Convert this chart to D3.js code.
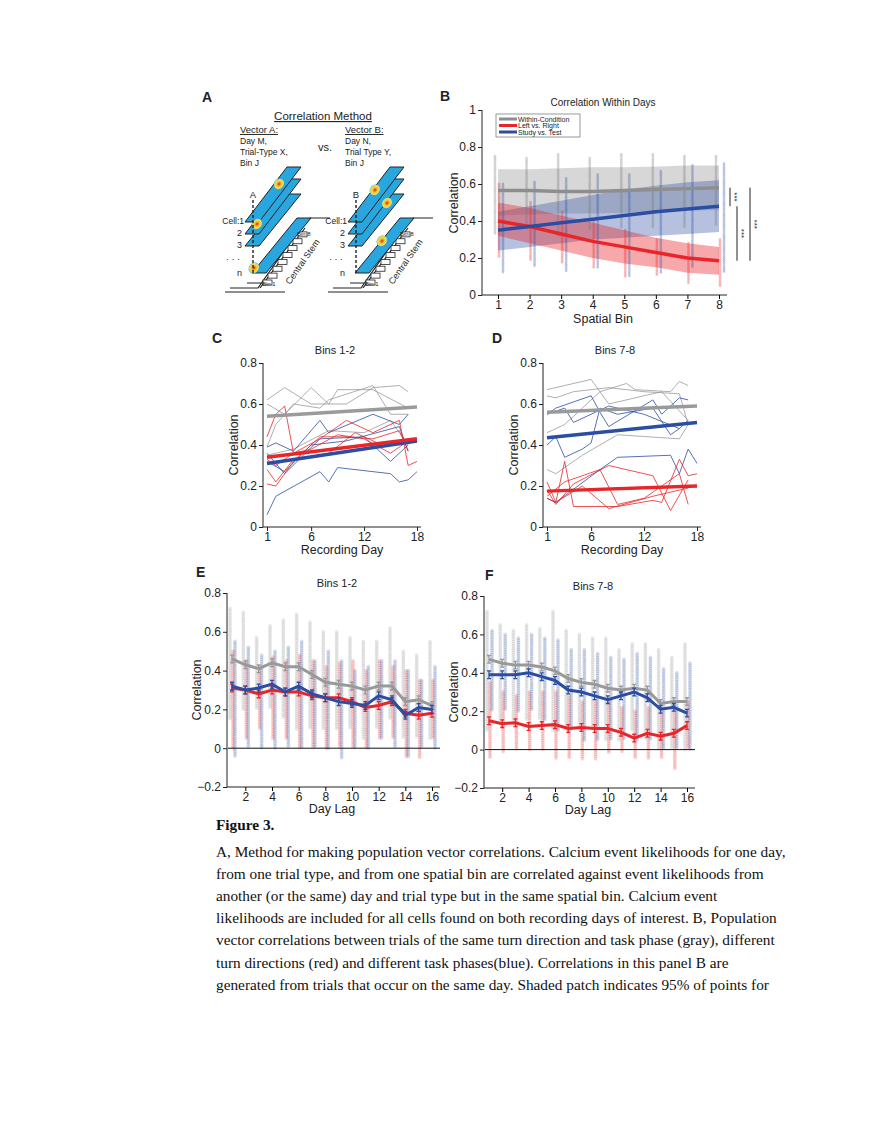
<!DOCTYPE html>
<html><head><meta charset="utf-8">
<script src="https://cdn.jsdelivr.net/npm/d3@7"></script>
<style>
body{margin:0;background:#fff}
text{font-family:"Liberation Sans",Arial,sans-serif;fill:#222}
.cap{font-family:"Liberation Serif","Times New Roman",serif;font-size:15.3px;fill:#111}
</style></head><body>
<svg id="fig" width="880" height="1139"></svg>
<script>
const GRAY = "#9a9a9a", RED = "#e8262a", BLUE = "#2b4ea2";

// ---- panel B: correlation within days, by spatial bin
const bins = [1, 2, 3, 4, 5, 6, 7, 8];
const bGrayMean = [0.565, 0.565, 0.56, 0.56, 0.565, 0.57, 0.575, 0.58];
const bGrayHi   = [0.68, 0.68, 0.685, 0.69, 0.69, 0.695, 0.70, 0.70];
const bGrayLo   = [0.43, 0.435, 0.44, 0.44, 0.445, 0.45, 0.455, 0.46];
const bRedMean  = [0.40, 0.37, 0.33, 0.29, 0.26, 0.23, 0.20, 0.185];
const bRedHi    = [0.50, 0.47, 0.43, 0.39, 0.35, 0.31, 0.28, 0.26];
const bRedLo    = [0.32, 0.28, 0.24, 0.20, 0.17, 0.15, 0.12, 0.11];
const bBlueMean = [0.35, 0.37, 0.39, 0.41, 0.43, 0.45, 0.465, 0.48];
const bBlueHi   = [0.45, 0.48, 0.51, 0.54, 0.57, 0.59, 0.61, 0.62];
const bBlueLo   = [0.24, 0.26, 0.28, 0.30, 0.31, 0.32, 0.33, 0.34];
// scatter extents per bin [low, high]
const bGrayPts = [[0.33,0.75],[0.35,0.74],[0.32,0.76],[0.35,0.74],[0.36,0.76],[0.36,0.76],[0.36,0.75],[0.38,0.75]];
const bRedPts  = [[0.20,0.60],[0.18,0.50],[0.17,0.45],[0.15,0.40],[0.10,0.35],[0.10,0.30],[0.06,0.28],[0.05,0.30]];
const bBluePts = [[0.12,0.60],[0.15,0.61],[0.12,0.63],[0.15,0.65],[0.10,0.65],[0.12,0.67],[0.15,0.70],[0.12,0.71]];

// ---- panels C, D: per-animal lines over recording day, [day, r]
const cGrayLines = [
  [[1,.62],[3,.68],[6,.60],[10,.60],[13,.68],[16,.69],[17,.66]],
  [[1,.60],[3,.55],[6,.68],[8,.60],[9,.67],[13,.67],[17,.58]],
  [[1,.39],[2,.50],[4,.60],[7,.58],[8,.62],[13,.69],[15,.55],[17,.55]],
  [[1,.35],[4,.38],[8,.47],[12,.46],[15,.52],[17,.40]]];
const cRedLines = [
  [[1,.44],[2,.55],[3,.59],[4,.36],[7,.43],[10,.52],[13,.46],[16,.52],[17,.30],[18,.32]],
  [[1,.21],[2,.20],[4,.32],[7,.44],[10,.44],[13,.43],[16,.47],[17,.37]],
  [[1,.28],[2,.22],[4,.33],[8,.36],[11,.46],[14,.40],[17,.42]],
  [[1,.33],[2,.30],[4,.36],[6,.38],[9,.45],[12,.43],[15,.36],[17,.42]]];
const cBlueLines = [
  [[1,.06],[2,.15],[7,.27],[8,.22],[9,.29],[15,.26],[16,.22],[17,.23],[18,.27]],
  [[1,.39],[2,.41],[4,.37],[7,.52],[8,.46],[13,.55],[16,.50],[17,.55]],
  [[1,.36],[3,.26],[7,.43],[12,.44],[15,.32],[17,.40]],
  [[1,.32],[3,.27],[6,.40],[10,.42],[16,.49],[17,.37]]];
const cTrend = {gray: [0.54, 0.585], red: [0.34, 0.43], blue: [0.31, 0.42]};

const dGrayLines = [
  [[1,.67],[3,.69],[6,.72],[7,.66],[10,.70],[11,.67],[15,.66],[16,.71],[17,.69]],
  [[1,.64],[2,.63],[4,.66],[8,.68],[12,.66],[16,.65],[17,.50]],
  [[1,.46],[3,.50],[7,.66],[8,.60],[14,.66],[17,.52]],
  [[1,.28],[2,.26],[5,.35],[9,.45],[16,.43],[17,.50]]];
const dBlueLines = [
  [[1,.55],[2,.58],[6,.64],[7,.56],[8,.49],[13,.62],[14,.55],[16,.63],[17,.62]],
  [[1,.40],[2,.44],[3,.34],[5,.38],[6,.41],[7,.58],[9,.55],[13,.58],[15,.45],[16,.48],[17,.52]],
  [[1,.14],[2,.12],[7,.28],[9,.34],[15,.35],[16,.26],[17,.38],[18,.31]],
  [[1,.55],[3,.58],[4,.51],[8,.59],[12,.55],[16,.48]]];
const dRedLines = [
  [[1,.22],[2,.12],[3,.32],[4,.10],[9,.10],[13,.13],[14,.12],[16,.33],[17,.25],[18,.26]],
  [[1,.18],[2,.11],[4,.21],[8,.30],[13,.25],[15,.08],[17,.23]],
  [[1,.15],[3,.22],[7,.28],[9,.11],[12,.14],[16,.26],[17,.11]],
  [[1,.14],[2,.12],[5,.20],[8,.09],[13,.15],[17,.19]]];
const dTrend = {gray: [0.56, 0.59], red: [0.175, 0.20], blue: [0.435, 0.51]};

// ---- panels E, F: mean correlation by day lag
const lags = d3.range(1, 17);
const eGray = [.46,.43,.41,.44,.42,.42,.38,.34,.33,.32,.30,.32,.32,.24,.25,.22];
const eBlue = [.32,.30,.31,.33,.29,.32,.28,.26,.24,.23,.22,.27,.25,.17,.21,.20];
const eRed  = [.31,.30,.28,.30,.29,.29,.27,.26,.26,.24,.21,.22,.24,.18,.17,.18];
const eGrayPts = [[.15,.72],[.2,.70],[.2,.57],[.2,.63],[.15,.66],[.1,.69],[.1,.65],[.1,.60],[.1,.60],[.1,.57],[.05,.55],[.1,.55],[.15,.62],[.05,.50],[.05,.48],[.05,.55]];
const eRedPts  = [[0,.50],[.05,.45],[.1,.42],[.05,.47],[.05,.45],[0,.48],[0,.45],[0,.42],[0,.44],[0,.45],[0,.40],[.05,.45],[.05,.42],[-.05,.40],[-.05,.35],[.05,.35]];
const eBluePts = [[-.05,.55],[0,.52],[0,.48],[0,.50],[0,.52],[0,.55],[0,.45],[0,.50],[-.05,.45],[0,.40],[0,.42],[.05,.45],[0,.45],[-.05,.40],[0,.35],[0,.42]];
const fGray = [.47,.45,.44,.44,.43,.41,.37,.35,.34,.32,.31,.32,.31,.24,.25,.25];
const fBlue = [.39,.39,.39,.40,.38,.36,.31,.30,.28,.26,.28,.30,.27,.21,.22,.19];
const fRed  = [.15,.135,.14,.12,.125,.13,.11,.115,.11,.11,.09,.06,.085,.07,.085,.125];
const fGrayPts = [[.1,.72],[.15,.65],[.15,.62],[.15,.65],[.15,.63],[.1,.72],[.1,.62],[.1,.60],[.1,.58],[.05,.58],[.05,.52],[.1,.55],[.05,.55],[0,.52],[0,.48],[0,.55]];
const fBluePts = [[.2,.62],[.2,.60],[.2,.58],[.2,.60],[.15,.58],[.1,.57],[.1,.52],[.05,.52],[.05,.50],[.05,.48],[.05,.47],[.05,.50],[.05,.48],[0,.42],[0,.40],[0,.45]];
const fRedPts  = [[-.05,.35],[-.02,.30],[0,.28],[0,.30],[0,.30],[-.05,.30],[-.05,.28],[-.05,.25],[-.05,.25],[-.02,.25],[-.02,.22],[-.05,.20],[-.05,.22],[-.05,.20],[-.1,.20],[0,.25]];
const eErr = 0.02;

const svg = d3.select("#fig");

function label(txt, x, y) {
  svg.append("text").attr("x", x).attr("y", y).attr("font-size", 14)
    .attr("font-weight", "bold").text(txt);
}

function axes(g, x, y, xTicks, yTicks, yFmt, xFmt) {
  const ya = g.append("g").attr("transform", `translate(${x.range()[0] - 4},0)`)
    .call(d3.axisLeft(y).tickValues(yTicks).tickSize(4).tickPadding(2).tickFormat(yFmt));
  const xa = g.append("g").attr("transform", `translate(0,${y.range()[0]})`)
    .call(d3.axisBottom(x).tickValues(xTicks).tickSize(4).tickPadding(1).tickFormat(xFmt || d3.format("d")));
  ya.select(".domain").attr("d", `M0,${y.range()[0]}V${y.range()[1]}`);
  xa.select(".domain").attr("d", `M${x.range()[0] - 4},0H${x.range()[1] + 4}`);
  g.selectAll(".tick text").attr("font-size", 12).attr("font-family", "Liberation Sans");
  g.selectAll(".domain, .tick line").attr("stroke", "#222");
}

function strip(g, cx, lo, hi, y, color, r, op) {
  const step = 2.2;
  const y0 = y(lo), y1 = y(hi);
  g.append("g").selectAll("circle").data(d3.range(y1, y0, step)).join("circle")
    .attr("cx", cx).attr("cy", d => d).attr("r", r || 1.6)
    .attr("fill", color).attr("opacity", op || 0.3);
}

// ================= Panel A (diagram) =================
label("A", 202, 102);
const A = svg.append("g");
const defs = svg.append("defs");
const grad = defs.append("radialGradient").attr("id", "blob");
grad.append("stop").attr("offset", "0%").attr("stop-color", "#e0261c");
grad.append("stop").attr("offset", "45%").attr("stop-color", "#f2c531");
grad.append("stop").attr("offset", "80%").attr("stop-color", "#eee060");
grad.append("stop").attr("offset", "100%").attr("stop-color", "#29a8e0");

A.append("text").attr("x", 323).attr("y", 120).attr("text-anchor", "middle")
  .attr("font-size", 11.5).attr("text-decoration", "underline").text("Correlation Method");
A.append("text").attr("x", 318).attr("y", 151).attr("font-size", 11).text("vs.");
function vecText(x, head, lines) {
  A.append("text").attr("x", x).attr("y", 133).attr("font-size", 9.5)
    .attr("text-decoration", "underline").text(head);
  lines.forEach((t, i) => A.append("text").attr("x", x).attr("y", 144 + i * 11)
    .attr("font-size", 8.5).text(t));
}
vecText(240, "Vector A:", ["Day M,", "Trial-Type X,", "Bin J"]);
vecText(345, "Vector B:", ["Day N,", "Trial Type Y,", "Bin J"]);

function stack(ox, letter, blobs) {
  const g = A.append("g").attr("transform", `translate(${ox},0)`);
  g.append("path").attr("fill", "none").attr("stroke", "#222").attr("stroke-width", 1.2)
    .attr("d", "M225,292H285 M230,288H258 L300,228 L310,218H330 M260,288 L305,228 M247,283H262");
  d3.range(8).forEach(i => {
    const t = i / 8;
    g.append("rect").attr("x", 263 + t * 40).attr("y", 280 - t * 55).attr("width", 9).attr("height", 5)
      .attr("fill", "#fff").attr("stroke", "#222").attr("stroke-width", 0.8);
  });
  const plane = (bx, by, dx, dy) => `M${bx},${by}L${bx + 14},${by}L${bx + 14 + dx},${by + dy}L${bx + dx},${by + dy}Z`;
  [[252, 273, 45, -55], [245, 246, 42, -52], [245, 234, 42, -55], [245, 222, 42, -55]].forEach(p => {
    g.append("path").attr("d", plane(...p)).attr("fill", "#2aa6df").attr("stroke", "#222").attr("stroke-width", 1);
  });
  blobs.forEach(b => g.append("ellipse").attr("cx", b[0]).attr("cy", b[1]).attr("rx", 6).attr("ry", 5)
    .attr("transform", `rotate(-50,${b[0]},${b[1]})`).attr("fill", "url(#blob)"));
  g.append("line").attr("x1", 253).attr("x2", 253).attr("y1", 200).attr("y2", 275)
    .attr("stroke", "#222").attr("stroke-width", 1.4).attr("stroke-dasharray", "3,2");
  g.append("text").attr("x", 253).attr("y", 198).attr("text-anchor", "middle").attr("font-size", 9.5).text(letter);
  g.append("text").attr("x", 244).attr("y", 224).attr("text-anchor", "end").attr("font-size", 8.5).text("Cell:1");
  [["2", 236], ["3", 248], ["n", 276]].forEach(d => g.append("text").attr("x", 242).attr("y", d[1])
    .attr("text-anchor", "end").attr("font-size", 9).text(d[0]));
  g.append("text").attr("x", 240).attr("y", 262).attr("text-anchor", "end").attr("font-size", 9).text("·  ·  ·");
  g.append("text").attr("x", 297).attr("y", 236).attr("font-size", 6).text("Bin 8");
  g.append("text").attr("x", 262).attr("y", 286).attr("font-size", 6).text("Bin 1");
  g.append("text").attr("transform", "translate(290,285) rotate(-55)").attr("font-size", 9).text("Central Stem");
}
stack(0, "A", [[279, 184], [257, 224], [254, 268]]);
stack(103, "B", [[272, 190], [284, 203], [279, 241]]);

// ================= Panel B =================
label("B", 440, 101);
{
  const g = svg.append("g");
  const x = d3.scaleLinear().domain([1, 8]).range([498, 719]);
  const y = d3.scaleLinear().domain([0, 1]).range([295, 110]);
  const area = (hi, lo) => d3.area().x((d, i) => x(bins[i])).y0((d, i) => y(lo[i])).y1((d, i) => y(hi[i]))(bins);
  g.append("path").attr("d", area(bGrayHi, bGrayLo)).attr("fill", GRAY).attr("opacity", 0.4);
  g.append("path").attr("d", area(bBlueHi, bBlueLo)).attr("fill", BLUE).attr("opacity", 0.35);
  g.append("path").attr("d", area(bRedHi, bRedLo)).attr("fill", RED).attr("opacity", 0.4);
  bins.forEach((b, i) => {
    strip(g, x(b) - 3, bGrayPts[i][0], bGrayPts[i][1], y, "#777", 1.4);
    strip(g, x(b) + 1, bRedPts[i][0], bRedPts[i][1], y, RED, 1.4);
    strip(g, x(b) + 5, bBluePts[i][0], bBluePts[i][1], y, BLUE, 1.4);
  });
  const ln = m => d3.line().x((d, i) => x(bins[i])).y(d => y(d))(m);
  [[bGrayMean, "#8e8e8e"], [bRedMean, RED], [bBlueMean, BLUE]].forEach(s =>
    g.append("path").attr("d", ln(s[0])).attr("fill", "none").attr("stroke", s[1]).attr("stroke-width", 3.5));
  axes(g, d3.scaleLinear().domain([1, 8]).range([486, 723]), y, [], [0, 0.2, 0.4, 0.6, 0.8, 1], d3.format(".1~f"));
  g.append("g").attr("transform", "translate(0,295)").call(d3.axisBottom(x).tickValues(bins).tickSize(4).tickPadding(1).tickFormat(d3.format("d")))
    .call(a => a.select(".domain").remove()).selectAll("text").attr("font-size", 12);
  g.append("text").attr("x", 603).attr("y", 106).attr("text-anchor", "middle").attr("font-size", 10).text("Correlation Within Days");
  g.append("text").attr("x", 603).attr("y", 323).attr("text-anchor", "middle").attr("font-size", 12.5).text("Spatial Bin");
  g.append("text").attr("transform", "translate(458,203) rotate(-90)").attr("text-anchor", "middle").attr("font-size", 12.5).text("Correlation");
  // legend
  g.append("rect").attr("x", 496).attr("y", 114).attr("width", 84).attr("height", 23).attr("fill", "#fff").attr("stroke", "#555").attr("stroke-width", 0.6);
  [["Within-Condition", "#8e8e8e"], ["Left vs. Right", RED], ["Study vs. Test", BLUE]].forEach((d, i) => {
    g.append("line").attr("x1", 499).attr("x2", 517).attr("y1", 119 + i * 6.5).attr("y2", 119 + i * 6.5).attr("stroke", d[1]).attr("stroke-width", 3);
    g.append("text").attr("x", 518).attr("y", 121.5 + i * 6.5).attr("font-size", 7).text(d[0]);
  });
  // significance bars
  [[730, bGrayMean[7], bBlueMean[7]], [737, bBlueMean[7], bRedMean[7]], [750, bGrayMean[7], bRedMean[7]]].forEach(d => {
    g.append("line").attr("x1", d[0]).attr("x2", d[0]).attr("y1", y(d[1])).attr("y2", y(d[2])).attr("stroke", "#222");
    const my = (y(d[1]) + y(d[2])) / 2;
    g.append("text").attr("transform", `translate(${d[0] + 2},${my}) rotate(90)`).attr("text-anchor", "middle")
      .attr("font-size", 8).text("***");
  });
}

// ================= Panels C, D =================
function dayPanel(lbl, ox, title, grayL, redL, blueL, trend) {
  label(lbl, ox - 51, 343);
  const g = svg.append("g");
  const x = d3.scaleLinear().domain([1, 18]).range([ox + 4, ox + 154]);
  const y = d3.scaleLinear().domain([0, 0.8]).range([527, 363]);
  const ln = d3.line().x(d => x(d[0])).y(d => y(d[1]));
  [[grayL, GRAY], [blueL, BLUE], [redL, RED]].forEach(s => s[0].forEach(l =>
    g.append("path").attr("d", ln(l)).attr("fill", "none").attr("stroke", s[1]).attr("stroke-width", 0.8)));
  [["gray", "#9a9a9a"], ["blue", BLUE], ["red", RED]].forEach(s =>
    g.append("path").attr("d", ln([[1, trend[s[0]][0]], [18, trend[s[0]][1]]])).attr("stroke", s[1]).attr("stroke-width", 3.5));
  axes(g, x, y, [1, 6, 12, 18], [0, 0.2, 0.4, 0.6, 0.8], d3.format(".1~f"));
  g.append("text").attr("x", ox + 72).attr("y", 354).attr("text-anchor", "middle").attr("font-size", 11).text(title);
  g.append("text").attr("x", ox + 79).attr("y", 554).attr("text-anchor", "middle").attr("font-size", 12.5).text("Recording Day");
  g.append("text").attr("transform", `translate(${ox - 25},445) rotate(-90)`).attr("text-anchor", "middle").attr("font-size", 12.5).text("Correlation");
}
dayPanel("C", 263, "Bins 1-2", cGrayLines, cRedLines, cBlueLines, cTrend);
dayPanel("D", 543, "Bins 7-8", dGrayLines, dRedLines, dBlueLines, dTrend);

// ================= Panels E, F =================
function lagPanel(lbl, lx, x0, x16, y08, yn02, title, ty, means, pts) {
  label(lbl, lx, y08 - 16);
  const g = svg.append("g");
  const x = d3.scaleLinear().domain([1, 16]).range([x0, x16]);
  const y = d3.scaleLinear().domain([-0.2, 0.8]).range([yn02, y08]);
  lags.forEach((l, i) => {
    strip(g, x(l) - 2, pts[0][i][0], pts[0][i][1], y, "#999", 1.9, 0.22);
    strip(g, x(l) + 1, pts[1][i][0], pts[1][i][1], y, RED, 1.9, 0.2);
    strip(g, x(l) + 3, pts[2][i][0], pts[2][i][1], y, BLUE, 1.9, 0.2);
  });
  g.append("line").attr("x1", x(1) - 4).attr("x2", x(16) + 8).attr("y1", y(0)).attr("y2", y(0)).attr("stroke", "#111");
  const ln = d3.line().x((d, i) => x(lags[i])).y(d => y(d));
  [[means[0], "#999"], [means[1], RED], [means[2], BLUE]].forEach(s => {
    g.append("path").attr("d", ln(s[0])).attr("fill", "none").attr("stroke", s[1]).attr("stroke-width", 3);
    g.append("g").selectAll("path").data(s[0]).join("path")
      .attr("d", (d, i) => `M${x(lags[i]) - 2},${y(d + eErr)}H${x(lags[i]) + 2}M${x(lags[i])},${y(d + eErr)}V${y(d - eErr)}M${x(lags[i]) - 2},${y(d - eErr)}H${x(lags[i]) + 2}`)
      .attr("stroke", s[1]).attr("stroke-width", 1.3);
  });
  axes(g, d3.scaleLinear().domain([1, 16]).range([x0 - 1, x16 + 4]), y, [], [-0.2, 0, 0.2, 0.4, 0.6, 0.8], d3.format(".1~f"));
  g.append("g").attr("transform", `translate(0,${yn02})`).call(d3.axisBottom(x).tickValues(d3.range(2, 17, 2)).tickSize(4).tickPadding(1))
    .call(a => a.select(".domain").remove()).selectAll("text").attr("font-size", 12);
  g.append("text").attr("x", (x0 + x16) / 2 + 5).attr("y", ty).attr("text-anchor", "middle").attr("font-size", 11).text(title);
  g.append("text").attr("x", (x0 + x16) / 2).attr("y", yn02 + 26).attr("text-anchor", "middle").attr("font-size", 12.5).text("Day Lag");
  g.append("text").attr("transform", `translate(${x0 - 31},${(y08 + yn02) / 2}) rotate(-90)`).attr("text-anchor", "middle").attr("font-size", 12.5).text("Correlation");
}
lagPanel("E", 196, 232, 432, 593, 787, "Bins 1-2", 587, [eGray, eRed, eBlue], [eGrayPts, eRedPts, eBluePts]);
lagPanel("F", 485, 489, 687, 596, 788, "Bins 7-8", 590, [fGray, fRed, fBlue], [fGrayPts, fRedPts, fBluePts]);

// ================= Caption =================
const caption = [
  "A, Method for making population vector correlations. Calcium event likelihoods for one day,",
  "from one trial type, and from one spatial bin are correlated against event likelihoods from",
  "another (or the same) day and trial type but in the same spatial bin. Calcium event",
  "likelihoods are included for all cells found on both recording days of interest. B, Population",
  "vector correlations between trials of the same turn direction and task phase (gray), different",
  "turn directions (red) and different task phases(blue). Correlations in this panel B are",
  "generated from trials that occur on the same day. Shaded patch indicates 95% of points for"];
svg.append("text").attr("class", "cap").attr("x", 216).attr("y", 830).attr("font-weight", "bold").attr("font-size", 14).text("Figure 3.");
caption.forEach((t, i) => svg.append("text").attr("class", "cap").attr("x", 216).attr("y", 857 + i * 22.1).text(t));
</script></body></html>
